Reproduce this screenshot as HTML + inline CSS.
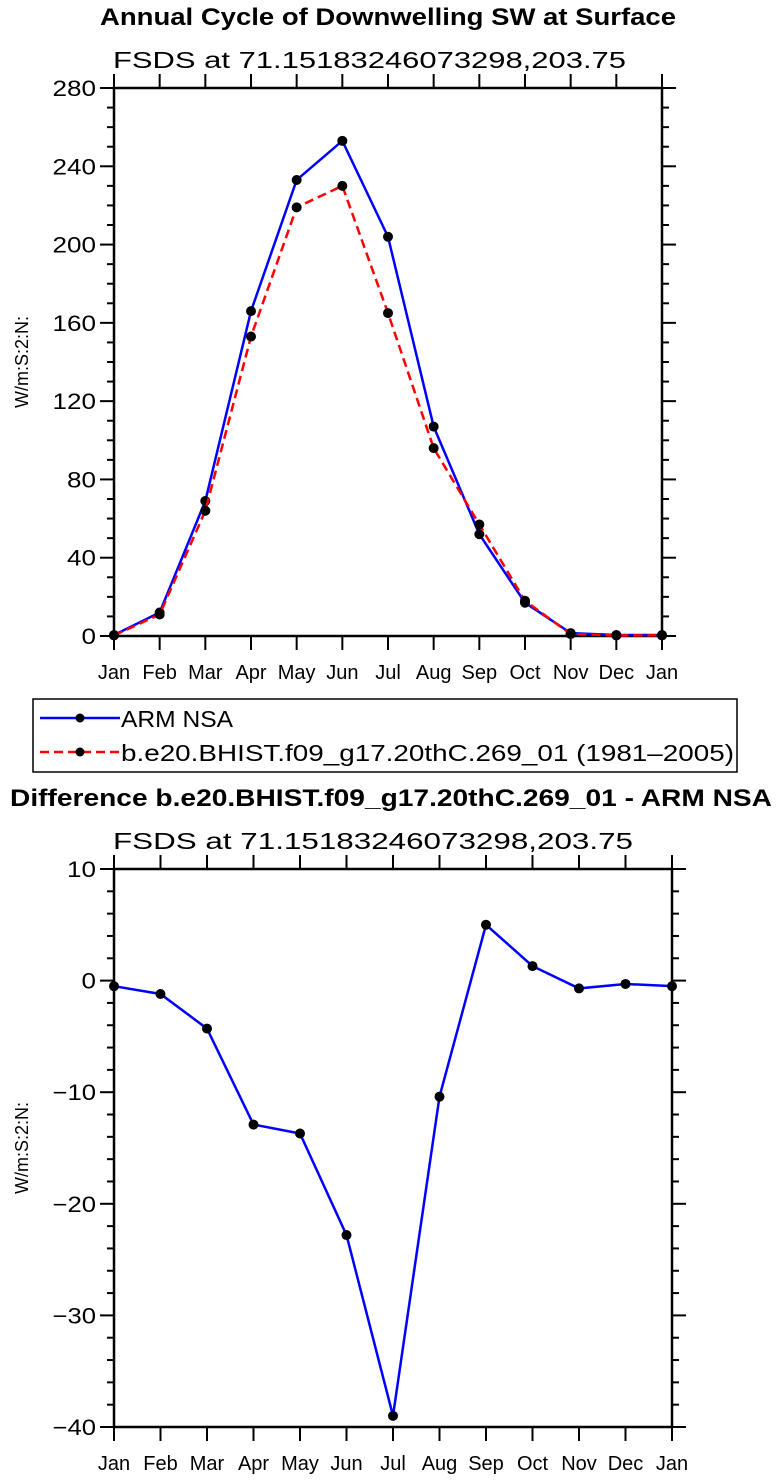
<!DOCTYPE html>
<html><head><meta charset="utf-8"><style>
html,body{margin:0;padding:0;background:#fff;}
svg{display:block;font-family:"Liberation Sans",sans-serif;}
</style></head><body>
<svg id="chart" width="779" height="1480" xmlns="http://www.w3.org/2000/svg">
<text x="100" y="25" textLength="576" lengthAdjust="spacingAndGlyphs" font-size="24" font-weight="bold">Annual Cycle of Downwelling SW at Surface</text>
<text x="113" y="68" textLength="513" lengthAdjust="spacingAndGlyphs" font-size="23">FSDS at 71.15183246073298,203.75</text>
<text x="10" y="806" textLength="762" lengthAdjust="spacingAndGlyphs" font-size="24" font-weight="bold">Difference b.e20.BHIST.f09_g17.20thC.269_01 - ARM NSA</text>
<text x="113" y="849" textLength="520" lengthAdjust="spacingAndGlyphs" font-size="23">FSDS at 71.15183246073298,203.75</text>
<g id="topPlot"></g>
<g id="botPlot"></g>
<g>
<rect x="33" y="699" width="704" height="73" fill="none" stroke="#000" stroke-width="1.5"/>
<g>
<line x1="40" y1="718" x2="120" y2="718" stroke="#00f" stroke-width="2.5"/>
<circle cx="80" cy="718" r="4.5" fill="#000"/>
<text x="121" y="727" textLength="112" lengthAdjust="spacingAndGlyphs" font-size="23">ARM NSA</text></g>
<g>
<line x1="40" y1="752" x2="120" y2="752" stroke="#f00" stroke-width="2.5" stroke-dasharray="9,5"/>
<circle cx="80" cy="752" r="4.5" fill="#000"/>
<text x="121" y="761" textLength="613" lengthAdjust="spacingAndGlyphs" font-size="23">b.e20.BHIST.f09_g17.20thC.269_01 (1981–2005)</text></g>
</g>
</svg>
<script>
const months = ["Jan","Feb","Mar","Apr","May","Jun","Jul","Aug","Sep","Oct","Nov","Dec","Jan"];
const armValues = [0.5,12,69,166,233,253,204,107,52,17,1.5,0.5,0.5];
const modelValues = [0.3,11,64,153,219,230,165,96,57,18,1,0.3,0.3];
const diffValues = [-0.5,-1.2,-4.3,-12.9,-13.7,-22.8,-39,-10.4,5.0,1.3,-0.7,-0.3,-0.5];
const topTicks = [0,40,80,120,160,200,240,280];
const botTicks = [-40,-30,-20,-10,0,10];
const botTickLabels = ["−40","−30","−20","−10","0","10"];

const NS="http://www.w3.org/2000/svg";
function mk(parent,tag,attrs){const e=document.createElementNS(NS,tag);for(const k in attrs)e.setAttribute(k,attrs[k]);parent.appendChild(e);return e;}

function drawPlot(g,cfg){
  const {x0,x1,y0,y1,vmin,vmax,ticks,labels,minor,ylabelY,name}=cfg;
  const sx=i=>x0+(x1-x0)*i/(months.length-1);
  const sy=v=>y1-(v-vmin)/(vmax-vmin)*(y1-y0);
  const frame=mk(g,'rect',{x:x0,y:y0,width:x1-x0,height:y1-y0,fill:'none',stroke:'#000','stroke-width':2.5});
  
  
  for(let v=vmin;v<=vmax+1e-9;v+=minor){
    const y=sy(v);const major=ticks.some(t=>Math.abs(t-v)<1e-9);const L=major?14:7;
    mk(g,'line',{x1:x0-L,y1:y,x2:x0,y2:y,stroke:'#000','stroke-width':2});
    mk(g,'line',{x1:x1,y1:y,x2:x1+L,y2:y,stroke:'#000','stroke-width':2});
  }
  ticks.forEach((t,i)=>{
    const lab=labels[i];
    const tx=mk(g,'text',{x:x0-18,y:sy(t)+8,'text-anchor':'end','font-size':22,textLength:lab.length*14.5,lengthAdjust:'spacingAndGlyphs'});
    tx.textContent=lab;
    
    
  });
  months.forEach((m,i)=>{
    const x=sx(i);
    mk(g,'line',{x1:x,y1:y1,x2:x,y2:y1+14,stroke:'#000','stroke-width':2});
    mk(g,'line',{x1:x,y1:y0-14,x2:x,y2:y0,stroke:'#000','stroke-width':2});
    const tx=mk(g,'text',{x:x,y:y1+43,'text-anchor':'middle','font-size':20});
    tx.textContent=m;
    
    
  });
  const yl=mk(g,'text',{x:0,y:0,transform:`translate(28,${ylabelY}) rotate(-90)`,'text-anchor':'middle','font-size':18});
  yl.textContent='W/m:S:2:N:';
  
  
  return {sx,sy};
}
function drawSeries(g,vals,s,color,dash,name){
  const pts=vals.map((v,i)=>s.sx(i)+','+s.sy(v)).join(' ');
  const pl=mk(g,'polyline',{points:pts,fill:'none',stroke:color,'stroke-width':2.5});
  if(dash)pl.setAttribute('stroke-dasharray',dash);
  
  
  vals.forEach((v,i)=>{
    const c=mk(g,'circle',{cx:s.sx(i),cy:s.sy(v),r:5,fill:'#000'});
    
    
  });
}
const topG=document.getElementById('topPlot');
const s1=drawPlot(topG,{x0:114,x1:662,y0:88,y1:636,vmin:0,vmax:280,ticks:topTicks,labels:topTicks.map(String),minor:10,ylabelY:362,name:'top'});
drawSeries(topG,armValues,s1,'#00f',null,'arm');
drawSeries(topG,modelValues,s1,'#f00','9,5','model');
const botG=document.getElementById('botPlot');
const s2=drawPlot(botG,{x0:114,x1:672,y0:869,y1:1427,vmin:-40,vmax:10,ticks:botTicks,labels:botTickLabels,minor:2,ylabelY:1148,name:'bottom'});
drawSeries(botG,diffValues,s2,'#00f',null,'diff');
</script>
</body></html>
